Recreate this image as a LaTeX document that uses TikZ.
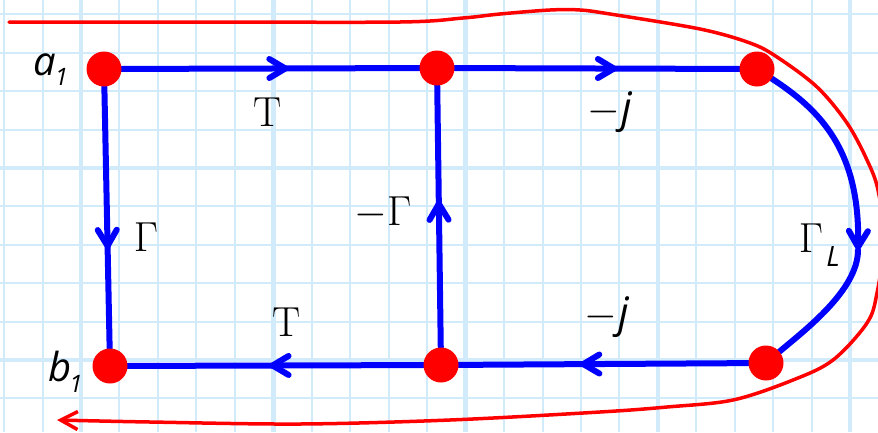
\RequirePackage{fix-cm}
\documentclass[tikz,border=0pt]{standalone}
\usepackage{fontspec}
\newfontfamily\itsans{Open Sans}
\usetikzlibrary{arrows.meta,decorations.markings}
\pgfdeclarelayer{bg}
\pgfsetlayers{bg,main}
\definecolor{gridblue}{RGB}{210,235,251}
\tikzset{
  vertex/.style={circle, fill=red, minimum size=35pt, inner sep=0pt},
  edge/.style={blue, line width=6pt, line cap=round},
  barb/.tip={Straight Barb[length=16pt,width=19pt,round]},
  midarrow/.style={postaction={decorate}, decoration={markings, mark=at position #1 with {\arrow{barb}}}},
  lbl/.style={inner sep=0pt, font=\fontsize{42}{44}\selectfont},
  slbl/.style={inner sep=0pt, font=\fontsize{40}{42}\selectfont\itsans\itshape},
  redline/.style={red, line width=3.5pt, line cap=round}
}
\begin{document}
\begin{tikzpicture}[x=1pt,y=-1pt]
\useasboundingbox (0,0) rectangle (878,432);
\clip (0,0) rectangle (878,432);
% grid
\begin{pgfonlayer}{bg}
\fill[white] (0,0) rectangle (878,432);
\foreach \k in {-2,...,20}{
  \pgfmathsetmacro\xx{81+38.46*\k}
  \pgfmathtruncatemacro\m{mod(\k+10,5)}
  \ifnum\m=0 \def\lw{4.5pt}\else\def\lw{2pt}\fi
  \draw[gridblue, line width=\lw] (\xx,0) -- (\xx,432);
}
\foreach \k in {-4,...,6}{
  \pgfmathsetmacro\yy{168+38.4*\k}
  \pgfmathtruncatemacro\m{mod(\k+10,5)}
  \ifnum\m=0 \def\lw{4.5pt}\else\def\lw{2pt}\fi
  \draw[gridblue, line width=\lw] (0,\yy) -- (878,\yy);
}
\end{pgfonlayer}
% nodes
\node[vertex] (a1) at (104,69) {};
\node[vertex] (m1) at (437,68) {};
\node[vertex] (r1) at (757,69) {};
\node[vertex] (b1) at (110,366) {};
\node[vertex] (m2) at (441,365) {};
\node[vertex] (r2) at (766,363) {};
\coordinate (gl) at (858,250);
% edges
\begin{pgfonlayer}{bg}
\draw[edge, midarrow=0.56] (a1) -- (m1);
\draw[edge, midarrow=0.57] (m1) -- (r1);
\draw[edge, midarrow=0.62] (a1) -- (b1);
\draw[edge, midarrow=0.56] (m2) -- (m1);
\draw[edge, midarrow=0.52] (m2) -- (b1);
\draw[edge, midarrow=0.58] (r2) -- (m2);
\draw[edge, -barb] (r1) .. controls (820,110) and (860,150) .. (gl);
\draw[edge] (gl) .. controls (858,290) and (805,330) .. (r2);
\end{pgfonlayer}
% red contour
\draw[redline, -{Straight Barb[length=17pt,width=18pt]}] plot[smooth, tension=0.55] coordinates {
 (9,22) (200,22) (400,22) (463,18) (500,14) (550,10) (580,10) (610,14) (700,29)
 (750,43) (777,57) (817,87) (847,123) (867,160) (878,190) (884,240) (877,293)
 (867,323) (833,360) (793,380) (733,400) (667,407) (600,412) (450,420) (300,424)
 (150,422) (57,420)};
% labels
\node[slbl, anchor=base west] (la) at (33,75) {a\kern-1pt\raisebox{-10pt}{\fontsize{24}{24}\selectfont 1}};
\node[slbl, anchor=base west] (lb) at (48,381) {b\kern-2pt\raisebox{-11pt}{\fontsize{24}{24}\selectfont 1}};
\node[lbl] (t1) at (268,112) {T};
\node[lbl] (t2) at (287,322) {T};
\node[lbl] (g1) at (146,237) {$\Gamma$};
\node[lbl] (g2) at (383,213) {$-\Gamma$};
\node[lbl] (j1) at (610,112) {$-$\kern1pt{\itsans\itshape j}};
\node[lbl] (j2) at (607,317) {$-$\kern1pt{\itsans\itshape j}};
\node[lbl] (gL) at (811,238) {$\Gamma$};
\node[inner sep=0pt, font=\fontsize{28}{28}\selectfont\itsans\itshape] (lL) at (833,256) {L};
\end{tikzpicture}
\end{document}
